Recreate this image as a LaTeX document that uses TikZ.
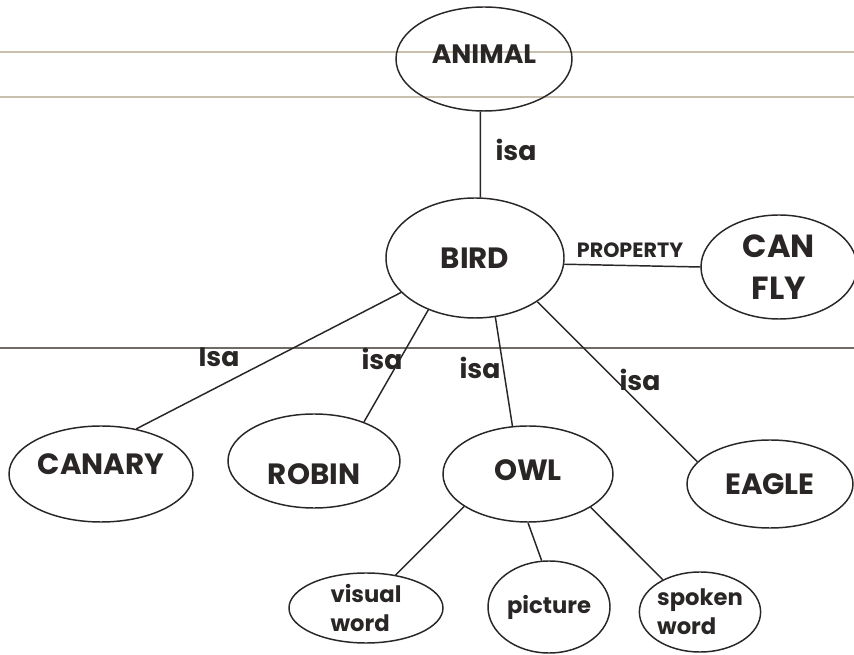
\documentclass[tikz,border=0pt]{standalone}
\usepackage{fontspec}
\setmainfont{Poppins}
\usetikzlibrary{shapes.geometric}
\definecolor{ink}{HTML}{2A2626}
\definecolor{rule}{HTML}{C9BFAE}
\definecolor{darkrule}{HTML}{6E6A66}
\tikzset{
	concept/.style={ellipse, draw=ink, line width=1.1pt, inner sep=0pt, text=ink, font=\bfseries\fontsize{22}{22}\selectfont},
	dims/.style 2 args={minimum width=#1*0.75pt, minimum height=#2*0.75pt},
	rel/.style={text=ink, inner sep=0pt, font=\bfseries\fontsize{20}{20}\selectfont},
	link/.style={draw=ink, line width=1.1pt},
}
\begin{document}
\begin{tikzpicture}[x=0.75pt, y=-0.75pt]
	\useasboundingbox (0,0) rectangle (854,655);
	\fill[white] (0,0) rectangle (854,655);
	\draw[rule, line width=0.8pt] (0,52) -- (854,52);
	\draw[rule, line width=0.8pt] (0,97) -- (854,97);
	\draw[darkrule, line width=1.1pt] (0,348) -- (854,348);

	\node[concept, dims={176}{104}, text depth=7pt, font=\bfseries\fontsize{20}{20}\selectfont] (animal) at (484,59) {ANIMAL};
	\node[concept, dims={178}{120}] (bird) at (475,258) {BIRD};
	\node[concept, dims={156}{104}, align=center, font=\bfseries\fontsize{24}{32}\selectfont] (canfly) at (779,267) {CAN\\FLY};
	\node[concept, dims={184}{96}, text depth=15pt] (canary) at (101,474) {CANARY};
	\node[concept, dims={172}{94}, text height=36pt] (robin) at (314,461) {ROBIN};
	\node[concept, dims={170}{96}, text depth=6pt] (owl) at (528,474) {OWL};
	\node[concept, dims={166}{88}] (eagle) at (770,484) {EAGLE};
	\node[concept, dims={154}{70}, align=left, font=\bfseries\fontsize{17}{22}\selectfont] (visual) at (366,608) {visual\\word};
	\node[concept, dims={122}{92}, font=\bfseries\fontsize{17}{22}\selectfont] (picture) at (549,607) {picture};
	\node[concept, dims={120}{80}, align=left, font=\bfseries\fontsize{17}{22}\selectfont] (spoken) at (700,612) {spoken\\word};

	\node[rel] (isa0) at (516,150) {isa};
	\node[rel, font=\bfseries\fontsize{15.5}{15.5}\selectfont] (prop) at (630,250) {PROPERTY};
	\node[rel] (isa1) at (219,357) {Isa};
	\node[rel] (isa2) at (382,359) {isa};
	\node[rel] (isa3) at (480,368) {isa};
	\node[rel] (isa4) at (640,380) {isa};

	\draw[link] (animal.266) -- (bird.85);
	\draw[link] (bird.356) -- (canfly.180);
	\draw[link] (bird.205) -- (canary.52);
	\draw[link] (bird.228) -- (robin.38);
	\draw[link] (bird.289) -- (owl.108);
	\draw[link] (bird.325) -- (eagle.163);
	\draw[link] (owl.207) -- (visual.48);
	\draw[link] (owl.270) -- (picture.99);
	\draw[link] (owl.332) -- (spoken.139);
\end{tikzpicture}
\end{document}
